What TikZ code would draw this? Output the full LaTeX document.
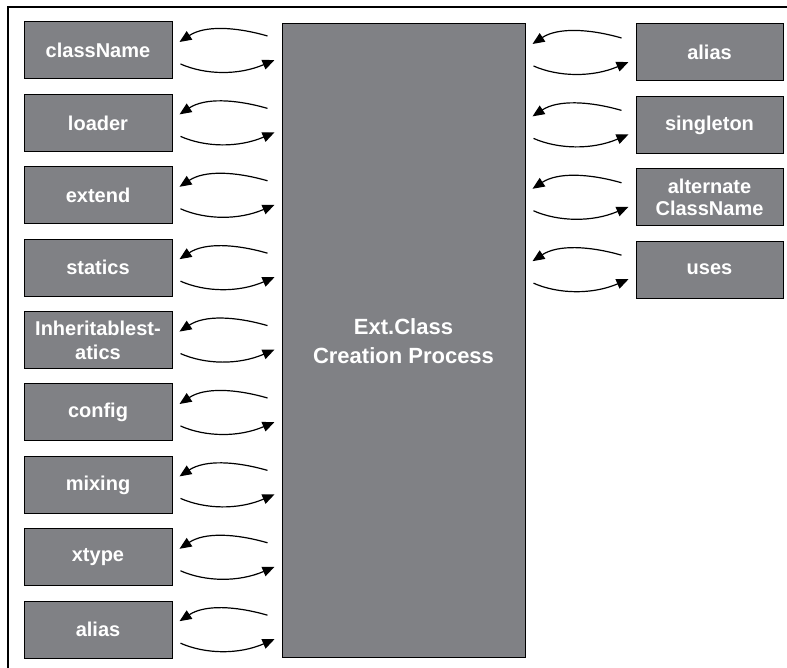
\documentclass[tikz,border=0pt]{standalone}
\usepackage{fontspec}
\setmainfont{Liberation Sans}
\usetikzlibrary{calc,positioning,arrows.meta}
\definecolor{boxgray}{RGB}{128,129,133}
\tikzset{>={Triangle[length=12pt,width=10pt]}}
\tikzset{
  cfgbox/.style={draw=black, line width=1pt, fill=boxgray, text=white,
    minimum width=148pt, minimum height=57pt, inner sep=0pt, align=center,
    font=\fontsize{20}{22}\selectfont\bfseries},
  link/.style={line width=1.2pt}
}
% #1 node on the left, #2 node on the right, #3 node giving the row
\newcommand{\linkpair}[3]{%
  \draw[link,<-] ($(#1.east |- #3.center)+(7,8.5)$) .. controls +(25,16.5) and +(-33,9.5) .. ($(#2.west |- #3.center)+(-14,14.5)$);
  \draw[link,->] ($(#1.east |- #3.center)+(8,-13.5)$) .. controls +(25,-11) and +(-36,-15.5) .. ($(#2.west |- #3.center)+(-7,-9.5)$);
}

\begin{document}
\begin{tikzpicture}[x=1pt,y=1pt,node distance=14.4pt]
  \useasboundingbox (0,0) rectangle (787,668);
  \draw[line width=1.5pt] (8,0) -- (8,661) -- (787,661);

  \node[cfgbox, minimum width=243pt, minimum height=634pt,
        font=\fontsize{22}{29}\selectfont\bfseries] (main) at (403.5,327) {Ext.Class\\Creation Process};

  % properties on the left
  \node[cfgbox] (clsname) at (98,617.5) {className};
  \node[cfgbox, below=of clsname] (loader) {loader};
  \node[cfgbox, below=of loader] (extend) {extend};
  \node[cfgbox, below=of extend] (statics) {statics};
  \node[cfgbox, below=of statics, font=\fontsize{20}{24}\selectfont\bfseries] (inhstatics) {Inheritablest-\\atics};
  \node[cfgbox, below=of inhstatics] (config) {config};
  \node[cfgbox, below=of config] (mixing) {mixing};
  \node[cfgbox, below=of mixing] (xtype) {xtype};
  \node[cfgbox, below=of xtype] (lalias) {alias};

  % properties on the right
  \node[cfgbox, minimum width=147pt] (ralias) at (709.5,615.5) {alias};
  \node[cfgbox, minimum width=147pt, below=of ralias] (singleton) {singleton};
  \node[cfgbox, minimum width=147pt, below=of singleton] (altname) {alternate\\ClassName};
  \node[cfgbox, minimum width=147pt, below=of altname] (uses) {uses};

  \linkpair{clsname}{main}{clsname}
  \linkpair{loader}{main}{loader}
  \linkpair{extend}{main}{extend}
  \linkpair{statics}{main}{statics}
  \linkpair{inhstatics}{main}{inhstatics}
  \linkpair{config}{main}{config}
  \linkpair{mixing}{main}{mixing}
  \linkpair{xtype}{main}{xtype}
  \linkpair{lalias}{main}{lalias}

  \linkpair{main}{ralias}{ralias}
  \linkpair{main}{singleton}{singleton}
  \linkpair{main}{altname}{altname}
  \linkpair{main}{uses}{uses}
\end{tikzpicture}
\end{document}
